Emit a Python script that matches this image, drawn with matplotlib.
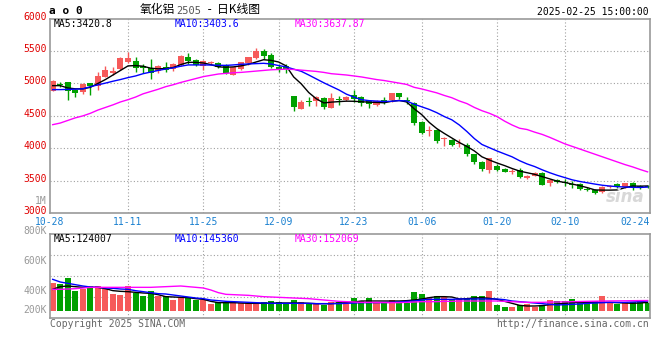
import numpy as np
import matplotlib
matplotlib.use("Agg")
import matplotlib.pyplot as plt
from matplotlib.transforms import offset_copy

# daily candles, 2024-10-28 .. 2025-02-25 (80 trading days)
opens = [4891, 4990, 5018, 4902, 4865, 5003, 4967, 5096, 5157, 5224,
         5325, 5353, 5275, 5240, 5198, 5250, 5224, 5290, 5412, 5361,
         5275, 5320, 5310, 5285, 5133, 5224, 5310, 5387, 5504, 5443,
         5259, 5275, 4812, 4600, 4735, 4727, 4777, 4620, 4755, 4748,
         4817, 4797, 4727, 4672, 4750, 4738, 4849, 4750, 4696, 4405,
         4267, 4277, 4145, 4124, 4063, 4048, 3910, 3791, 3674, 3724,
         3689, 3633, 3674, 3545, 3577, 3613, 3460, 3511, 3480, 3455,
         3449, 3370, 3357, 3331, 3405, 3449, 3400, 3460, 3420, 3415]
highs = [5060, 5025, 5028, 4920, 5010, 5010, 5172, 5275, 5260, 5400,
         5478, 5412, 5300, 5370, 5290, 5330, 5310, 5440, 5463, 5370,
         5361, 5350, 5330, 5300, 5260, 5335, 5405, 5546, 5530, 5470,
         5300, 5300, 4812, 4750, 4795, 4800, 4790, 4849, 4810, 4810,
         4902, 4810, 4740, 4745, 4790, 4860, 4860, 4790, 4720, 4420,
         4339, 4300, 4175, 4150, 4150, 4080, 3920, 3810, 3858, 3760,
         3700, 3680, 3690, 3590, 3640, 3630, 3530, 3530, 3530, 3500,
         3470, 3400, 3380, 3420, 3430, 3460, 3470, 3475, 3440, 3430]
lows = [4880, 4950, 4738, 4790, 4830, 4815, 4902, 5096, 5130, 5200,
        5320, 5172, 5157, 5070, 5160, 5180, 5190, 5270, 5300, 5270,
        5213, 5300, 5230, 5150, 5133, 5210, 5280, 5380, 5377, 5240,
        5180, 5160, 4574, 4600, 4660, 4660, 4610, 4620, 4670, 4730,
        4712, 4660, 4620, 4650, 4690, 4720, 4760, 4690, 4353, 4220,
        4185, 4075, 4032, 4030, 4020, 3880, 3760, 3650, 3623, 3650,
        3630, 3610, 3540, 3530, 3570, 3430, 3420, 3460, 3420, 3390,
        3360, 3340, 3300, 3310, 3390, 3390, 3390, 3355, 3370, 3395]
closes = [5044, 4975, 4891, 4850, 4994, 4957, 5121, 5209, 5198, 5387,
          5387, 5240, 5240, 5157, 5275, 5200, 5300, 5429, 5350, 5290,
          5350, 5335, 5250, 5157, 5249, 5325, 5402, 5504, 5428, 5259,
          5208, 5224, 4635, 4720, 4710, 4790, 4635, 4774, 4740, 4797,
          4764, 4702, 4681, 4735, 4725, 4849, 4789, 4730, 4390, 4236,
          4288, 4109, 4160, 4048, 4089, 3910, 3791, 3679, 3858, 3664,
          3638, 3659, 3562, 3575, 3623, 3434, 3511, 3475, 3465, 3440,
          3373, 3360, 3316, 3398, 3415, 3400, 3460, 3400, 3405, 3405]

ma5 = [4966, 4966, 4930, 4917, 4917, 4940, 5000, 5060, 5130, 5200,
       5270, 5275, 5265, 5235, 5225, 5230, 5245, 5290, 5325, 5325,
       5315, 5290, 5255, 5250, 5255, 5270, 5295, 5330, 5365, 5355,
       5330, 5270, 5100, 4994, 4860, 4764, 4700, 4712, 4720, 4727,
       4725, 4718, 4712, 4708, 4702, 4725, 4738, 4715, 4610, 4520,
       4400, 4305, 4230, 4160, 4090, 4030, 3960, 3870, 3820, 3775,
       3735, 3690, 3650, 3625, 3600, 3565, 3530, 3495, 3475, 3450,
       3425, 3395, 3360, 3357, 3357, 3360, 3395, 3420, 3418, 3421]
ma10 = [4905, 4905, 4908, 4912, 4917, 4950, 4978, 5005, 5034, 5060,
        5090, 5115, 5150, 5175, 5200, 5222, 5240, 5265, 5285, 5285,
        5285, 5283, 5280, 5278, 5285, 5295, 5300, 5305, 5310, 5300,
        5275, 5255, 5220, 5187, 5130, 5070, 5010, 4955, 4900, 4835,
        4790, 4750, 4735, 4728, 4722, 4725, 4735, 4730, 4680, 4640,
        4600, 4550, 4490, 4440, 4360, 4260, 4150, 4060, 4010, 3960,
        3915, 3870, 3810, 3760, 3720, 3670, 3625, 3585, 3550, 3515,
        3490, 3470, 3450, 3432, 3420, 3410, 3405, 3400, 3398, 3404]
ma30 = [4365, 4390, 4430, 4470, 4500, 4540, 4590, 4630, 4670, 4715,
        4750, 4790, 4840, 4875, 4910, 4950, 4980, 5015, 5045, 5075,
        5105, 5125, 5145, 5155, 5165, 5170, 5180, 5190, 5200, 5210,
        5215, 5220, 5215, 5205, 5195, 5185, 5170, 5150, 5140, 5130,
        5115, 5100, 5080, 5060, 5045, 5025, 5005, 4985, 4940, 4915,
        4885, 4855, 4815, 4780, 4730, 4690, 4630, 4580, 4540, 4490,
        4420, 4360, 4310, 4290, 4250, 4215, 4170, 4120, 4070, 4030,
        3990, 3950, 3910, 3870, 3830, 3790, 3750, 3715, 3675, 3638]

# volume, thousands
volume = [420, 400, 490, 300, 320, 370, 370, 320, 250, 235,
          370, 260, 225, 300, 225, 225, 160, 210, 210, 160,
          160, 100, 125, 135, 135, 120, 120, 110, 135, 150,
          135, 110, 165, 125, 110, 95, 85, 135, 135, 95,
          195, 145, 195, 110, 135, 165, 135, 110, 285, 250,
          195, 225, 200, 170, 170, 170, 225, 225, 300, 85,
          60, 60, 85, 95, 60, 85, 165, 145, 145, 175,
          145, 145, 145, 220, 135, 100, 135, 135, 160, 110]
vma5 = [320, 360, 370, 360, 350, 350, 350, 330, 300, 290,
        285, 275, 265, 260, 240, 210, 205, 200, 195, 180,
        170, 140, 120, 120, 120, 115, 110, 110, 110, 112,
        115, 115, 115, 115, 110, 105, 105, 105, 115, 120,
        130, 145, 145, 145, 145, 145, 145, 150, 160, 175,
        195, 210, 210, 205, 175, 180, 190, 195, 185, 170,
        140, 110, 80, 70, 70, 75, 90, 100, 110, 120,
        125, 125, 125, 125, 125, 120, 115, 110, 115, 124]
vma10 = [470, 430, 410, 390, 370, 355, 350, 340, 335, 325,
         320, 300, 285, 270, 255, 250, 235, 220, 205, 190,
         180, 160, 150, 140, 135, 130, 125, 120, 115, 110,
         110, 110, 110, 110, 110, 105, 105, 105, 105, 110,
         115, 120, 120, 120, 122, 125, 130, 140, 145, 160,
         170, 170, 170, 170, 175, 175, 175, 175, 175, 175,
         165, 145, 135, 125, 115, 105, 95, 85, 90, 95,
         100, 110, 115, 120, 125, 125, 125, 130, 135, 145]
vma30 = [320, 320, 325, 330, 340, 350, 350, 350, 350, 350,
         350, 350, 350, 350, 355, 360, 365, 370, 360, 350,
         340, 310, 270, 245, 240, 235, 230, 220, 210, 205,
         200, 195, 190, 185, 180, 170, 160, 150, 140, 135,
         130, 125, 125, 125, 122, 120, 120, 125, 130, 135,
         135, 135, 140, 140, 145, 145, 145, 145, 145, 145,
         140, 135, 130, 125, 125, 125, 128, 130, 132, 135,
         137, 140, 142, 144, 146, 147, 148, 150, 151, 152]

tick_labels = ["10-28", "11-11", "11-25", "12-09", "12-23",
               "01-06", "01-20", "02-10", "02-24"]
tick_idx = [0, 10, 20, 30, 40, 49, 59, 68, 78]
price_ticks = [3000, 3500, 4000, 4500, 5000, 5500, 6000]

RED, GREEN = "#f65a5a", "#00a000"
GRID = "#a0a0a0"
MONO = "DejaVu Sans Mono"
W, H = 660, 360


def fx(x):
    return x / W


def fy(y):
    return 1 - y / H


fig = plt.figure(figsize=(6.6, 3.6), dpi=100)
ax = fig.add_axes([fx(50), fy(213.3), 600 / W, (213.3 - 18.5) / H])
axv = fig.add_axes([fx(50), fy(318), 600 / W, 84 / H])

x = np.arange(len(closes))
o, h, l, c = map(np.array, (opens, highs, lows, closes))
up = c >= o
cols = np.where(up, RED, GREEN)
xl, xr = -0.36, 79.32

# candles
ax.vlines(x, l, h, colors=cols, lw=1)
body = np.maximum(np.abs(c - o), 14)
ax.bar(x, body, bottom=np.minimum(o, c), width=0.8, color=cols, lw=0)
ax.plot(x, ma5, color="black", lw=1)
ax.plot(x, ma10, color="#0000ff", lw=1)
ax.plot(x, ma30, color="#ff00ff", lw=1)
ax.set_xlim(xl, xr)
ax.set_ylim(3000, 6000)
ax.set_xticks([])
ax.set_yticks([])

# price labels sit a touch above their grid line, as in the source
ylab_tr = offset_copy(ax.get_yaxis_transform(), fig=fig, x=-3.5, y=2, units="dots")
for v in price_ticks:
    ax.text(0, v, str(v), transform=ylab_tr, ha="right", va="center",
            fontsize=7, family=MONO, color="#e00000")

# volume
vol = np.array(volume) * 1000
axv.bar(x, vol, width=0.8, color=cols, lw=0)
axv.plot(x, np.array(vma5) * 1000, color="black", lw=1)
axv.plot(x, np.array(vma10) * 1000, color="#0000ff", lw=1)
axv.plot(x, np.array(vma30) * 1000, color="#ff00ff", lw=1)
axv.set_xlim(xl, xr)
vlo, vhi = -110000, 1150000
axv.set_ylim(vlo, vhi)
axv.set_yticks([])
axv.set_xticks([])

for a in (ax, axv):
    for t in tick_idx[1:-1]:
        a.axvline(t, color=GRID, lw=0.8, ls=(0, (1, 2)), zorder=0)
    for s in a.spines.values():
        s.set_color("#999999")
        s.set_linewidth(1.2)
for v in price_ticks[1:-1]:
    ax.axhline(v, color=GRID, lw=0.8, ls=(0, (1, 2)), zorder=0)
for f in (0.25, 0.5, 0.75):
    axv.axhline(vlo + (vhi - vlo) * f, color=GRID, lw=0.8, ls=(0, (1, 2)), zorder=0)

# date labels
for t, lab in zip(tick_idx, tick_labels):
    ha, pos = "center", t
    if t == tick_idx[0]:
        pos = xl
    elif t == tick_idx[-1]:
        ha, pos = "right", xr
    ax.text(pos, -0.043, lab, transform=ax.get_xaxis_transform(), ha=ha,
            va="center", fontsize=7, family=MONO, color="#1a80d0")

# headers
fig.text(fx(49), fy(11.5), "a o 0", fontsize=8, family=MONO, weight="bold", va="center")
fig.text(fx(140), fy(10), "氧化铝", fontsize=8.5, family="Noto Sans CJK SC", va="center")
fig.text(fx(176.5), fy(10.5), "2505", fontsize=7.5, family=MONO, color="#555555", va="center")
fig.text(fx(205), fy(10), " -  日K线图", fontsize=8.5, family="Noto Sans CJK SC", va="center")
fig.text(fx(649), fy(12), "2025-02-25 15:00:00", fontsize=7, family=MONO, ha="right", va="center")

fig.text(fx(54), fy(24), "MA5:3420.8", fontsize=7, family=MONO, va="center")
fig.text(fx(175), fy(24), "MA10:3403.6", fontsize=7, family=MONO, color="#0000ff", va="center")
fig.text(fx(295), fy(24), "MA30:3637.87", fontsize=7, family=MONO, color="#ff00ff", va="center")
fig.text(fx(54), fy(238.5), "MA5:124007", fontsize=7, family=MONO, va="center")
fig.text(fx(175), fy(238.5), "MA10:145360", fontsize=7, family=MONO, color="#0000ff", va="center")
fig.text(fx(295), fy(238.5), "MA30:152069", fontsize=7, family=MONO, color="#ff00ff", va="center")

# volume scale labels (as drawn by the source)
for lab, yy in [("1M", 201), ("800K", 231), ("600K", 261), ("400K", 291), ("200K", 310)]:
    fig.text(fx(46.5), fy(yy), lab, fontsize=7, family=MONO, color="#999999",
             ha="right", va="center")

fig.text(fx(625), fy(197), "sina", fontsize=12, style="italic", weight="bold",
         color="#d8d8d8", ha="center", va="center")
fig.text(fx(50), fy(324), "Copyright 2025 SINA.COM", fontsize=7, family=MONO,
         color="#666666", va="center")
fig.text(fx(649), fy(324), "http://finance.sina.com.cn", fontsize=7, family=MONO,
         color="#666666", ha="right", va="center")

fig.savefig("out.png", dpi=100)
